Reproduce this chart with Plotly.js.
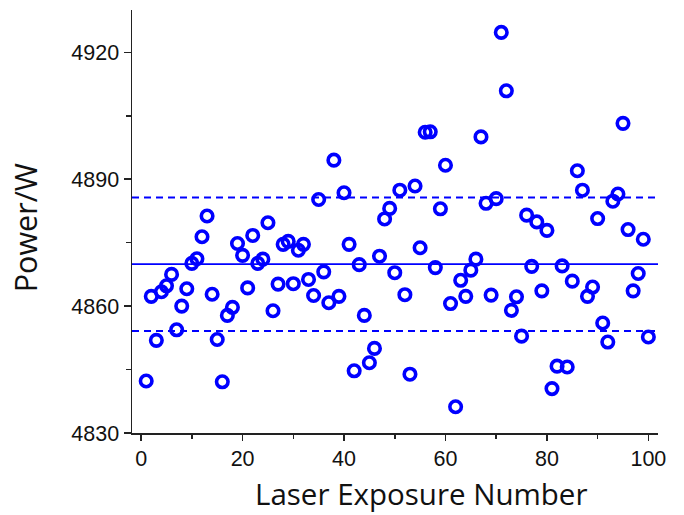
<!DOCTYPE html>
<html>
<head>
<meta charset="utf-8">
<script src="https://cdn.plot.ly/plotly-3.0.1.min.js"></script>
<style>html,body{margin:0;padding:0;background:#fff;}#chart{width:684px;height:515px;}</style>
</head>
<body>
<div id="chart"></div>
<script>
// Exposure numbers 1..100
var exposureNumber = [];
for (var i = 1; i <= 100; i++) exposureNumber.push(i);

var powerW = [
  4842.3, 4862.3, 4851.9, 4863.4, 4864.8, 4867.5, 4854.4, 4860.0, 4864.1, 4870.1,
  4871.2, 4876.4, 4881.3, 4862.8, 4852.1, 4842.1, 4857.8, 4859.7, 4874.8, 4872.0,
  4864.3, 4876.7, 4870.1, 4871.1, 4879.7, 4858.9, 4865.2, 4874.6, 4875.3, 4865.3,
  4873.2, 4874.6, 4866.3, 4862.5, 4885.2, 4868.1, 4860.8, 4894.5, 4862.3, 4886.8,
  4874.6, 4844.7, 4869.8, 4857.8, 4846.6, 4850.0, 4871.8, 4880.6, 4883.1, 4867.9,
  4887.4, 4862.7, 4843.9, 4888.4, 4873.8, 4901.1, 4901.2, 4869.1, 4883.0, 4893.3,
  4860.6, 4836.2, 4866.1, 4862.3, 4868.5, 4871.1, 4900.0, 4884.3, 4862.6, 4885.4,
  4924.7, 4910.9, 4859.0, 4862.2, 4852.9, 4881.5, 4869.4, 4879.9, 4863.6, 4877.9,
  4840.5, 4845.8, 4869.5, 4845.6, 4865.9, 4892.0, 4887.4, 4862.3, 4864.5, 4880.7,
  4856.0, 4851.5, 4884.8, 4886.5, 4903.2, 4878.1, 4863.6, 4867.7, 4875.8, 4852.7
];

var meanPower = 4869.9;
var upperBound = 4885.7;
var lowerBound = 4854.1;

var xTickVals = [0, 20, 40, 60, 80, 100];
var yTickVals = [4830, 4860, 4890, 4920];

var blue = '#0000ff';
var axisFont = {family: 'Liberation Sans, Arial, sans-serif', size: 21.5, color: '#111'};

var trace = {
  x: exposureNumber,
  y: powerW,
  type: 'scatter',
  mode: 'markers',
  marker: {symbol: 'circle-open', size: 11.5, color: blue, line: {color: blue, width: 3.6}},
  hoverinfo: 'x+y'
};

function hline(v, dash, w) {
  return {type: 'line', xref: 'paper', x0: 0, x1: 1, yref: 'y', y0: v, y1: v,
          line: {color: blue, width: w, dash: dash}, layer: 'below'};
}

var layout = {
  width: 684, height: 515,
  margin: {l: 132, r: 26, t: 10, b: 82},
  paper_bgcolor: '#fff', plot_bgcolor: '#fff',
  showlegend: false,
  xaxis: {
    range: [-1.8, 101.9],
    tickvals: xTickVals,
    ticks: 'outside', ticklen: 6, tickwidth: 1.5, tickcolor: '#222',
    minor: {dtick: 10, tick0: 0, ticks: 'outside', ticklen: 4, tickwidth: 1.5, tickcolor: '#222', showgrid: false},
    showline: true, linecolor: '#222', linewidth: 1.5,
    showgrid: false, zeroline: false,
    tickfont: axisFont
  },
  yaxis: {
    range: [4830, 4930],
    tickvals: yTickVals,
    ticks: 'outside', ticklen: 7, tickwidth: 1.5, tickcolor: '#222',
    minor: {dtick: 15, tick0: 4830, ticks: 'outside', ticklen: 5, tickwidth: 1.5, tickcolor: '#222', showgrid: false},
    showline: true, linecolor: '#222', linewidth: 1.5,
    showgrid: false, zeroline: false,
    tickfont: axisFont
  },
  shapes: [
    hline(meanPower, 'solid', 1.8),
    hline(upperBound, '7px,5px', 2),
    hline(lowerBound, '7px,5px', 2)
  ],
  annotations: [
    {text: 'Laser Exposure Number', xref: 'paper', yref: 'paper', x: 0.55, y: 0,
     yshift: -60, xanchor: 'center', yanchor: 'middle', showarrow: false,
     font: {family: 'Open Sans, sans-serif', size: 29.5, color: '#111'}},
    {text: 'Power/W', xref: 'paper', yref: 'paper', x: 0, y: 0.484,
     xshift: -107, yanchor: 'middle', xanchor: 'center', textangle: -90, showarrow: false,
     font: {family: 'Open Sans, sans-serif', size: 30.5, color: '#111'}}
  ]
};

Plotly.newPlot('chart', [trace], layout, {displayModeBar: false, staticPlot: true});
</script>
</body>
</html>
